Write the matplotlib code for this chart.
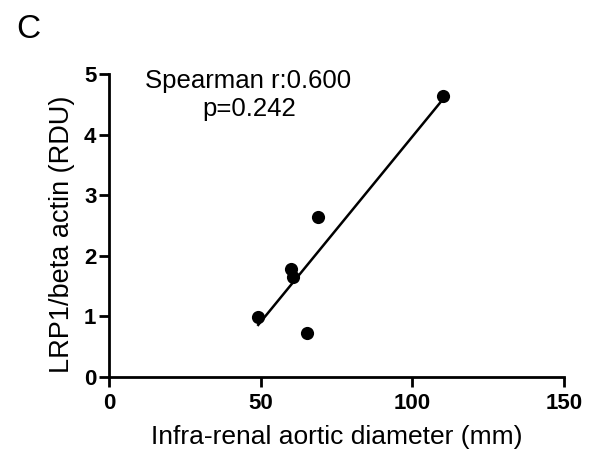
import matplotlib
matplotlib.use("Agg")
import matplotlib.pyplot as plt
import numpy as np

plt.rcParams['font.family'] = ['Liberation Sans', 'DejaVu Sans']

# values
diameter = [49.2, 60.0, 60.8, 68.8, 65.2, 110.2]
lrp1 = [0.99, 1.78, 1.65, 2.64, 0.73, 4.63]
x_ticks = [0, 50, 100, 150]
y_ticks = [0, 1, 2, 3, 4, 5]

fig = plt.figure(figsize=(5.89, 4.53), dpi=100)
ax = fig.add_axes([0.185, 0.1684, 0.7726, 0.6682])

ax.scatter(diameter, lrp1, s=90, color='black', zorder=3, linewidths=0)

slope, icpt = np.polyfit(diameter, lrp1, 1)
xs = np.array([min(diameter), max(diameter)])
ax.plot(xs, slope * xs + icpt, color='black', lw=1.8)

ax.set_xlim(0, 150)
ax.set_ylim(0, 5)
ax.set_xticks(x_ticks)
ax.set_yticks(y_ticks)
for s in ['top', 'right']:
    ax.spines[s].set_visible(False)
for s in ['left', 'bottom']:
    ax.spines[s].set_linewidth(2)
ax.tick_params(width=2, length=7, labelsize=16)
ax.tick_params(axis='x', pad=5)
ax.tick_params(axis='y', pad=2)
for lab in ax.get_xticklabels() + ax.get_yticklabels():
    lab.set_fontweight('bold')

ax.set_xlabel('Infra-renal aortic diameter (mm)', fontsize=19)
ax.xaxis.set_label_coords(0.5, -0.222)
ax.xaxis.label.set_va('baseline')
ax.set_ylabel('LRP1/beta actin (RDU)', fontsize=19.5)
ax.yaxis.set_label_coords(-0.074, 0.47)

ax.text(45.9, 4.77, 'Spearman r:0.600', ha='center', va='baseline', fontsize=18.5)
ax.text(46.2, 4.30, 'p=0.242', ha='center', va='baseline', fontsize=18.5)

fig.text(0.027, 0.916, 'C', fontsize=24, va='baseline', ha='left')

fig.savefig('out.png', dpi=100)
